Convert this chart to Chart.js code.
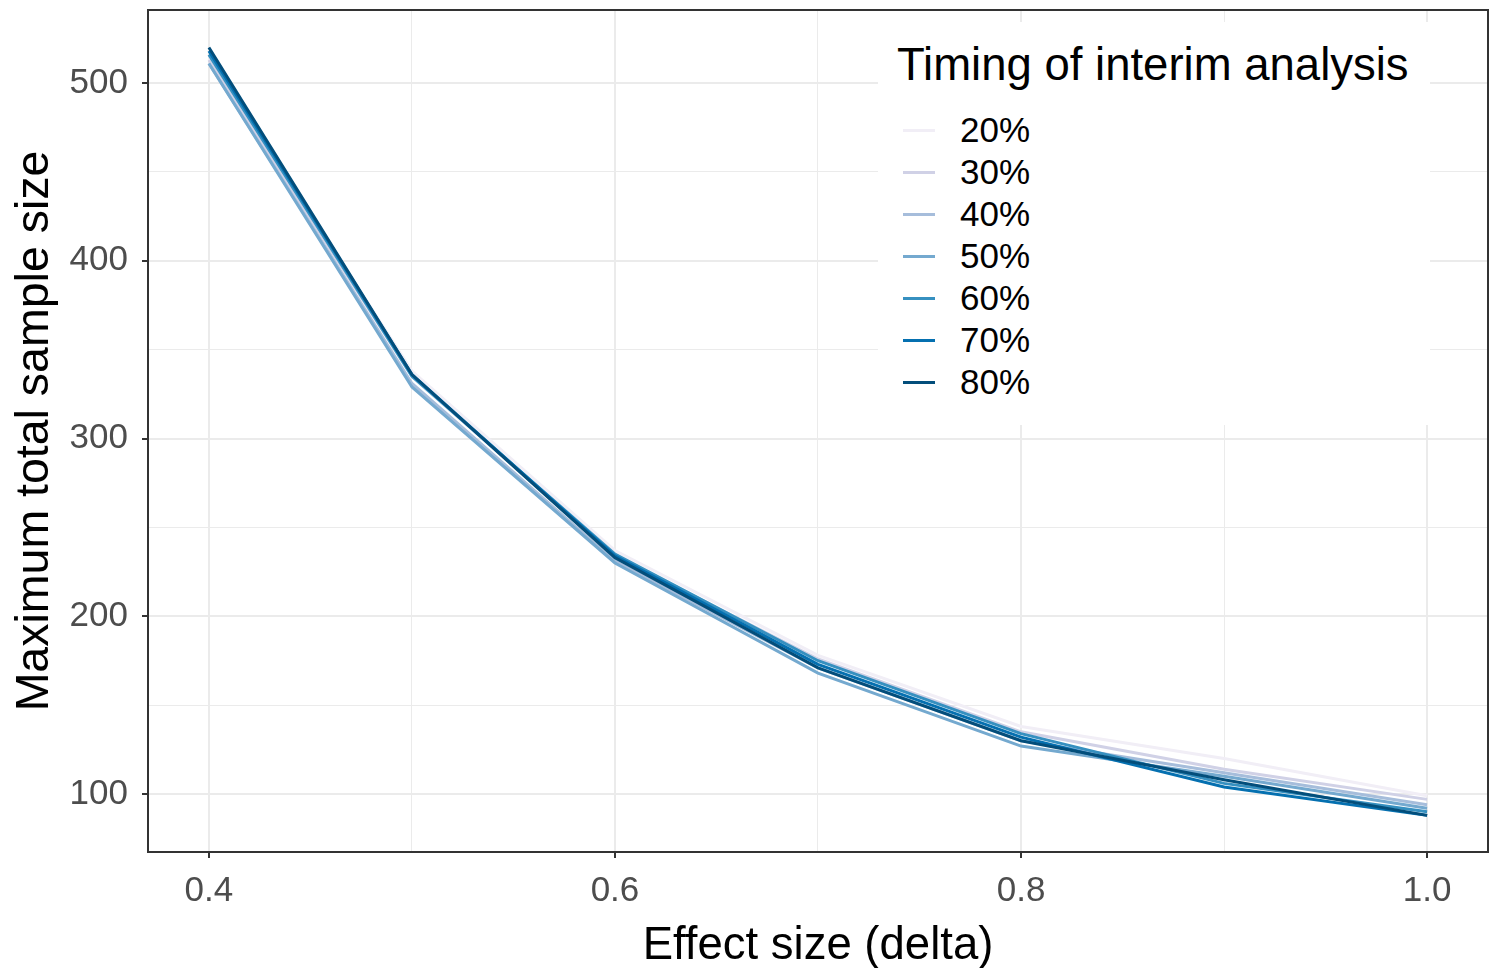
<!DOCTYPE html>
<html><head><meta charset="utf-8">
<script src="https://cdn.jsdelivr.net/npm/chart.js@4.4.0/dist/chart.umd.min.js"></script>
<style>
html,body{margin:0;padding:0;background:#fff;}
#wrap{position:relative;width:1501px;height:968px;}
#legend{position:absolute;left:878px;top:22px;width:552px;height:403px;background:#fff;font-family:"Liberation Sans",Arial,sans-serif;color:#000;}
#legend .ttl{position:absolute;left:19px;top:17px;font-size:45.5px;line-height:52px;white-space:nowrap;}
#legend .item{position:absolute;left:0;height:42px;width:300px;}
#legend .key{position:absolute;left:25px;top:20px;width:32px;height:3px;}
#legend .lab{position:absolute;left:82px;top:0;font-size:35px;line-height:42px;}
</style></head><body>
<div id="wrap"><canvas id="c" width="1501" height="968"></canvas><div id="legend"></div></div>
<script>
const effectSizes = [0.4, 0.5, 0.6, 0.7, 0.8, 0.9, 1.0];
const timingLabels = ['20%', '30%', '40%', '50%', '60%', '70%', '80%'];
const n20 = [514, 338, 237, 178, 138, 120, 99];
const n30 = [513, 335, 234, 176, 135, 114, 97];
const n40 = [511, 331, 231, 171, 130, 112, 94];
const n50 = [511, 329, 230, 168, 127, 110, 92];
const n60 = [516, 335, 235, 175, 134, 106, 90];
const n70 = [518, 336, 234, 173, 132, 104, 88];
const n80 = [520, 336, 233, 171, 130, 108, 88];
const seriesValues = [n20, n30, n40, n50, n60, n70, n80];
const seriesColors = ['#f1eef6', '#d0d1e6', '#a6bddb', '#74a9cf', '#3690c0', '#0570b0', '#034e7b'];
const xTicks = [0.4, 0.5, 0.6, 0.7, 0.8, 0.9, 1.0];
const yTicks = [100, 150, 200, 250, 300, 350, 400, 450, 500];

const FONT = '"Liberation Sans", Arial, sans-serif';
const isMajorX = v => Math.round(v * 10) % 2 === 0;
const isMajorY = v => Math.round(v) % 100 === 0;

const datasets = seriesValues.map((vals, i) => ({
  label: timingLabels[i],
  data: effectSizes.map((x, j) => ({x: x, y: vals[j]})),
  borderColor: seriesColors[i],
  backgroundColor: seriesColors[i],
  borderWidth: 3,
  pointRadius: 0,
  tension: 0,
  fill: false,
  order: seriesValues.length - 1 - i
}));

const panelBorder = {
  id: 'panelBorder',
  afterDraw(chart) {
    const a = chart.chartArea, ctx = chart.ctx;
    ctx.save();
    ctx.strokeStyle = '#333333';
    ctx.lineWidth = 2;
    ctx.strokeRect(a.left, a.top, a.right - a.left, a.bottom - a.top);
    ctx.restore();
  }
};
const bgPlugin = {
  id: 'bg',
  beforeDraw(chart) {
    const ctx = chart.ctx;
    ctx.save(); ctx.fillStyle = '#fff'; ctx.fillRect(0, 0, chart.width, chart.height); ctx.restore();
  }
};

new Chart(document.getElementById('c'), {
  type: 'line',
  data: {datasets},
  options: {
    responsive: false,
    animation: false,
    layout: {padding: {left: 0, right: 13, top: 10, bottom: 0}},
    plugins: {legend: {display: false}, tooltip: {enabled: false}},
    scales: {
      x: {
        type: 'linear', min: 0.37, max: 1.03,
        afterBuildTicks: s => { s.ticks = xTicks.map(v => ({value: v})); },
        afterFit: s => { s.height = 116; s.paddingLeft = 0; s.paddingRight = 0; },
        border: {display: false},
        grid: {
          color: c => '#ebebeb',
          lineWidth: c => (c.tick && isMajorX(c.tick.value)) ? 2 : 1,
          tickColor: c => (c.tick && isMajorX(c.tick.value)) ? '#333333' : 'rgba(0,0,0,0)',
          tickWidth: 2, tickLength: 6, drawTicks: true
        },
        ticks: {
          autoSkip: false, maxRotation: 0, padding: 12, color: '#4d4d4d',
          font: {family: FONT, size: 35},
          callback: v => isMajorX(v) ? Number(v).toFixed(1) : ''
        },
        title: {display: true, text: 'Effect size (delta)', color: '#000',
          font: {family: FONT, size: 45.5, lineHeight: 1.1}, padding: {top: 0, bottom: -3}}
      },
      y: {
        type: 'linear', min: 67.4, max: 541.1,
        afterBuildTicks: s => { s.ticks = yTicks.map(v => ({value: v})); },
        afterFit: s => { s.width = 148; s.paddingTop = 0; s.paddingBottom = 0; },
        border: {display: false},
        grid: {
          color: c => '#ebebeb',
          lineWidth: c => (c.tick && isMajorY(c.tick.value)) ? 2 : 1,
          tickColor: c => (c.tick && isMajorY(c.tick.value)) ? '#333333' : 'rgba(0,0,0,0)',
          tickWidth: 2, tickLength: 6, drawTicks: true
        },
        ticks: {
          autoSkip: false, padding: 14, color: '#4d4d4d',
          font: {family: FONT, size: 35},
          callback: v => isMajorY(v) ? String(v) : ''
        },
        title: {display: true, text: 'Maximum total sample size', color: '#000',
          font: {family: FONT, size: 46.5, lineHeight: 1.1}, padding: {top: 10, bottom: 0}}
      }
    }
  },
  plugins: [bgPlugin, panelBorder]
});

const leg = document.getElementById('legend');
const t = document.createElement('div');
t.className = 'ttl'; t.textContent = 'Timing of interim analysis';
leg.appendChild(t);
timingLabels.forEach((lab, i) => {
  const it = document.createElement('div');
  it.className = 'item';
  it.style.top = (87 + 42 * i) + 'px';
  const k = document.createElement('span'); k.className = 'key'; k.style.background = seriesColors[i];
  const l = document.createElement('span'); l.className = 'lab'; l.textContent = lab;
  it.appendChild(k); it.appendChild(l); leg.appendChild(it);
});
</script>
</body></html>
